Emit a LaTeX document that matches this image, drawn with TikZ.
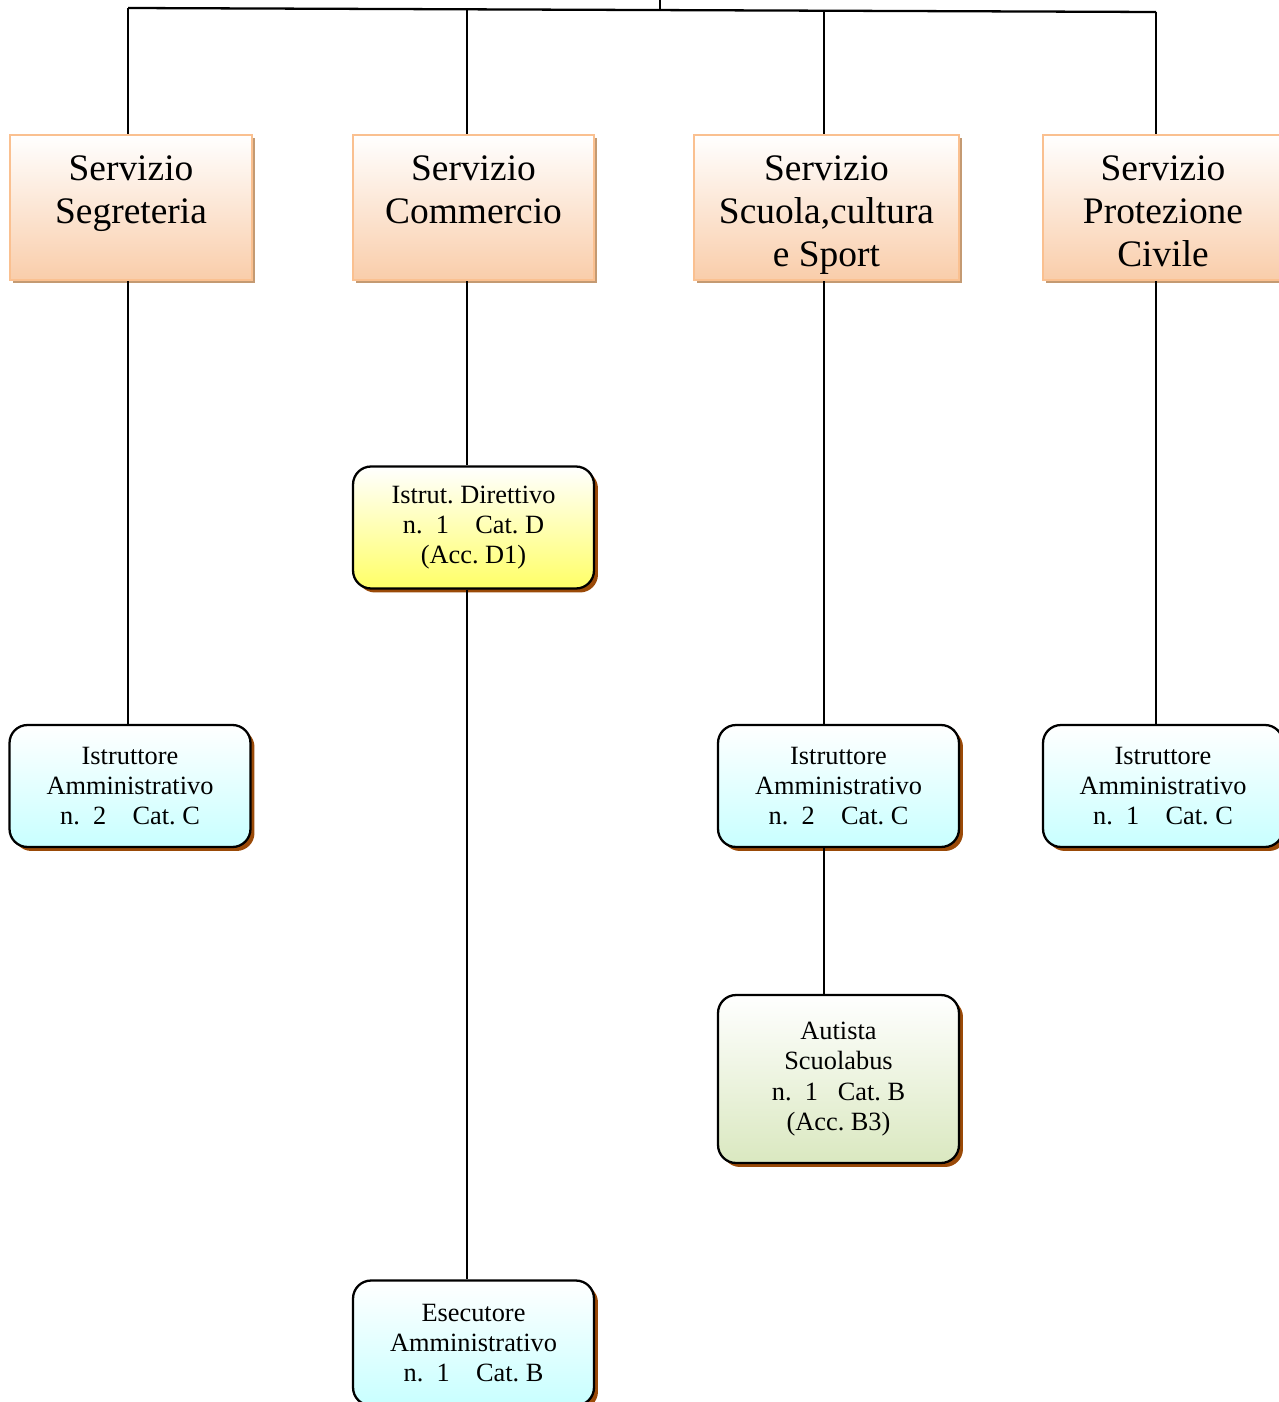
\documentclass[tikz,border=0pt]{standalone}
\usepackage{fontspec}
\setmainfont{Liberation Serif}
\usetikzlibrary{shadows}
\definecolor{peach}{HTML}{F9CDAA}
\definecolor{peachline}{HTML}{FAC090}
\definecolor{peachshadow}{HTML}{C49A72}
\definecolor{palecyan}{HTML}{C8FFFF}
\definecolor{paleyellow}{HTML}{FFFF66}
\definecolor{palegreen}{HTML}{DAE8C0}
\definecolor{rust}{HTML}{9A4A08}
\newcommand{\headtext}[1]{\parbox[c][2.06cm][t]{4.6cm}{\centering #1}}
\begin{document}
\begin{tikzpicture}[x=0.02cm,y=-0.02cm,
    servizio/.style={draw=peachline, line width=1.5pt, top color=white, bottom color=peach,
        inner sep=0pt, minimum height=2.9cm,
        drop shadow={shadow xshift=0.06cm, shadow yshift=-0.06cm, fill=peachshadow, opacity=1},
        font=\fontsize{21.3}{24.4}\selectfont},
    ufficio/.style={draw=black, line width=1.3pt, rounded corners=0.36cm, inner sep=0pt,
        minimum width=4.82cm, minimum height=2.44cm, align=center, top color=white,
        drop shadow={shadow xshift=0.08cm, shadow yshift=-0.08cm, fill=rust, opacity=1},
        font=\fontsize{15}{17.3}\selectfont},
    ciano/.style={ufficio, bottom color=palecyan},
    giallo/.style={ufficio, bottom color=paleyellow},
    verde/.style={ufficio, bottom color=palegreen},
    line width=1pt]
    \useasboundingbox (0,0) rectangle (1278,1402);
    % servizi
    \node[servizio, minimum width=4.84cm] (segr) at (131,207.5) {\headtext{Servizio\\Segreteria}};
    \node[servizio, minimum width=4.82cm] (comm) at (473.5,207.5) {\headtext{Servizio\\Commercio}};
    \node[servizio, minimum width=5.3cm] (scuo) at (826.5,207.5) {\headtext{Servizio\\Scuola,cultura\\e Sport}};
    \node[servizio, minimum width=4.8cm] (prot) at (1163,207.5) {\headtext{Servizio\\Protezione\\Civile}};
    % uffici
    \node[ciano] (segrIstr) at (130,786) {Istruttore\\Amministrativo\\n.\ \ 2\ \ \ \ Cat.\ C};
    \node[giallo] (commDir) at (473.5,527.5) {Istrut.\ Direttivo\\n.\ \ 1\ \ \ \ Cat.\ D\\(Acc.\ D1)};
    \node[ciano, minimum height=2.5cm] (commEsec) at (473.5,1343) {Esecutore\\Amministrativo\\n.\ \ 1\ \ \ \ Cat.\ B};
    \node[ciano] (scuoIstr) at (838.5,786) {Istruttore\\Amministrativo\\n.\ \ 2\ \ \ \ Cat.\ C};
    \node[verde, minimum height=3.36cm] (scuoAut) at (838.5,1079) {Autista\\Scuolabus\\n.\ \ 1\ \ \ Cat.\ B\\(Acc.\ B3)};
    \node[ciano, minimum width=4.8cm] (protIstr) at (1163,786) {Istruttore\\Amministrativo\\n.\ \ 1\ \ \ \ Cat.\ C};
    % linee
    \coordinate (root) at (660,0);
    \coordinate (rootfoot) at (660,10);
    \coordinate (busA) at (128,8);
    \coordinate (busB) at (467,9.5);
    \coordinate (busC) at (824,11);
    \coordinate (busD) at (1156,12);
    \draw[line width=1.3pt] (busA) -- (busD);
    \draw (root) -- (rootfoot);
    \draw (busA) -- (busA |- segr.north);
    \draw (busB) -- (busB |- comm.north);
    \draw (busC) -- (busC |- scuo.north);
    \draw (busD) -- (busD |- prot.north);
    \draw (busA |- segr.south) -- (busA |- segrIstr.north);
    \draw (busB |- comm.south) -- (busB |- commDir.north);
    \draw (busB |- commDir.south) -- (busB |- commEsec.north);
    \draw (busC |- scuo.south) -- (busC |- scuoIstr.north);
    \draw (busC |- scuoIstr.south) -- (busC |- scuoAut.north);
    \draw (busD |- prot.south) -- (busD |- protIstr.north);
\end{tikzpicture}
\end{document}
